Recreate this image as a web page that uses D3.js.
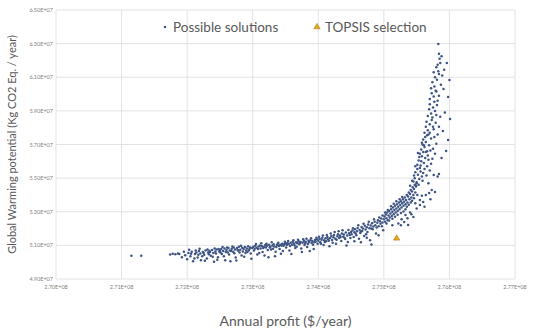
<!DOCTYPE html>
<html>
<head>
<meta charset="utf-8">
<script src="https://cdn.jsdelivr.net/npm/d3@7"></script>
<style>
  body { margin: 0; background: #fff; }
  svg { display: block; font-family: Lato, "Open Sans", sans-serif; }
  .grid line { stroke: #e3e3e3; stroke-width: 1; }
  .tick-label { fill: #7f7f7f; font-size: 5.5px; }
  .title { fill: #595959; }
</style>
</head>
<body>
<svg id="chart" width="550" height="335"></svg>
<script>
// values in millions: profit ($/year), GWP (kg CO2 eq / year)
const xTicks = [270, 271, 272, 273, 274, 275, 276, 277];
const yTicks = [49, 51, 53, 55, 57, 59, 61, 63, 65];

const tailPoints = [
  [271.15, 50.39], [271.30, 50.39], [271.74, 50.45], [271.78, 50.50], [271.82, 50.47], [271.86, 50.52], [271.88, 50.48],
  [271.92, 50.30], [271.95, 50.62], [271.97, 50.41],
  [272.00, 50.18], [272.02, 50.55], [272.05, 50.35], [272.07, 50.62], [272.09, 50.05], [272.12, 50.48], [272.14, 50.58],
  [272.16, 50.28], [272.18, 50.66], [272.20, 50.52], [272.21, 50.12], [272.24, 50.60], [272.26, 50.44], [272.28, 50.70],
  [272.30, 50.22], [272.32, 50.58], [272.34, 50.68], [272.36, 50.38], [272.38, 50.72], [272.40, 50.55], [272.41, 50.02],
  [272.43, 50.64], [272.45, 50.75], [272.47, 50.30], [272.49, 50.62], [272.50, 50.70],
  [272.03, 50.74], [272.06, 50.50], [272.11, 50.22], [272.13, 50.69], [272.17, 50.44], [272.19, 50.80], [272.23, 50.36],
  [272.25, 50.54], [272.27, 50.08], [272.31, 50.76], [272.33, 50.47], [272.35, 50.61], [272.39, 50.33], [272.42, 50.82],
  [272.44, 50.51], [272.46, 50.15], [272.48, 50.79]
];

const bandPoints = [
  [272.52, 50.78], [272.53, 50.48], [272.55, 50.66], [272.57, 50.82], [272.58, 50.12], [272.60, 50.72], [272.62, 50.58],
  [272.63, 50.85], [272.65, 50.70], [272.66, 50.05], [272.68, 50.80], [272.70, 50.62], [272.71, 50.88], [272.73, 50.76],
  [272.74, 50.28], [272.76, 50.84], [272.78, 50.68], [272.79, 50.92], [272.81, 50.74], [272.83, 50.40], [272.84, 50.86],
  [272.86, 50.78], [272.88, 50.90], [272.89, 50.55], [272.91, 50.82], [272.93, 50.95], [272.94, 50.70], [272.96, 50.88],
  [272.98, 50.20], [272.99, 50.84],
  [272.51, 50.58], [272.54, 50.91], [272.56, 50.35], [272.59, 50.61], [272.61, 50.88], [272.64, 50.45], [272.67, 50.67],
  [272.69, 50.93], [272.72, 50.53], [272.75, 50.10], [272.77, 50.72], [272.80, 50.58], [272.82, 50.98], [272.85, 50.64],
  [272.87, 50.33], [272.90, 50.70], [272.92, 50.60], [272.95, 50.79], [272.97, 50.52],
  [273.01, 50.92], [273.03, 50.80], [273.04, 50.98], [273.06, 50.86], [273.07, 50.45], [273.09, 50.94], [273.11, 51.00],
  [273.12, 50.82], [273.14, 50.96], [273.15, 50.60], [273.17, 50.90], [273.19, 51.02], [273.20, 50.88], [273.22, 50.98],
  [273.24, 50.30], [273.25, 51.04], [273.27, 50.92], [273.28, 50.75], [273.30, 51.00], [273.32, 51.06], [273.33, 50.94],
  [273.35, 50.62], [273.37, 51.02], [273.38, 51.08], [273.40, 50.96], [273.42, 51.04], [273.43, 50.50], [273.45, 51.10],
  [273.47, 50.98], [273.48, 51.06], [273.50, 51.12],
  [273.02, 50.70], [273.05, 51.08], [273.08, 50.78], [273.10, 50.55], [273.13, 51.12], [273.16, 50.84], [273.18, 50.40],
  [273.21, 51.10], [273.23, 50.72], [273.26, 50.88], [273.29, 51.18], [273.31, 50.80], [273.34, 50.35], [273.36, 50.90],
  [273.39, 51.16], [273.41, 50.78], [273.44, 50.98], [273.46, 50.66], [273.49, 51.22],
  [273.52, 51.02], [273.53, 51.14], [273.55, 51.08], [273.56, 50.70], [273.58, 51.16], [273.60, 51.04], [273.61, 51.20],
  [273.63, 51.10], [273.65, 50.85], [273.66, 51.18], [273.68, 51.12], [273.70, 51.24], [273.71, 51.06], [273.73, 51.20],
  [273.75, 50.60], [273.76, 51.16], [273.78, 51.26], [273.80, 51.12], [273.81, 51.22], [273.83, 50.90], [273.85, 51.28],
  [273.86, 51.18], [273.88, 51.30], [273.90, 51.14], [273.91, 51.26], [273.93, 50.78], [273.95, 51.32], [273.96, 51.22],
  [273.98, 51.36],
  [273.51, 50.88], [273.54, 51.26], [273.57, 50.96], [273.59, 50.48], [273.62, 51.30], [273.64, 51.00], [273.67, 50.92],
  [273.69, 51.34], [273.72, 51.14], [273.74, 50.82], [273.77, 51.36], [273.79, 51.02], [273.82, 51.40], [273.84, 51.08],
  [273.87, 50.66], [273.89, 51.42], [273.92, 51.04], [273.94, 51.18], [273.97, 51.46], [273.99, 51.10]
];

const kneePoints = [
  [274.00, 51.28], [274.02, 51.40], [274.03, 51.18], [274.05, 51.34], [274.06, 51.46], [274.08, 51.02], [274.09, 51.30],
  [274.11, 51.42], [274.12, 51.24], [274.14, 51.50], [274.15, 51.36], [274.17, 50.95], [274.18, 51.44], [274.20, 51.56],
  [274.21, 51.32], [274.23, 51.48], [274.24, 51.62], [274.26, 51.40], [274.27, 51.10], [274.29, 51.54], [274.30, 51.66],
  [274.32, 51.44], [274.33, 51.58], [274.35, 51.26], [274.36, 51.70], [274.38, 51.52], [274.39, 51.64], [274.41, 51.38],
  [274.42, 51.76], [274.44, 51.58], [274.45, 51.20], [274.47, 51.72], [274.48, 51.62], [274.50, 51.80],
  [274.01, 51.52], [274.04, 51.10], [274.07, 51.58], [274.10, 51.20], [274.13, 51.62], [274.16, 51.28], [274.19, 51.70],
  [274.22, 51.16], [274.25, 51.80], [274.28, 51.34], [274.31, 51.84], [274.34, 51.50], [274.37, 51.90], [274.40, 51.46],
  [274.43, 51.00], [274.46, 51.92], [274.49, 51.44],
  [274.51, 51.66], [274.52, 51.88], [274.54, 51.50], [274.55, 51.78], [274.56, 51.96], [274.58, 51.60], [274.59, 51.84],
  [274.60, 52.04], [274.62, 51.40], [274.63, 51.92], [274.64, 51.74], [274.66, 52.10], [274.67, 51.86], [274.68, 52.00],
  [274.70, 51.56], [274.71, 52.16], [274.72, 51.94], [274.74, 52.08], [274.75, 51.80], [274.76, 52.24], [274.78, 52.02],
  [274.79, 51.30], [274.80, 52.18], [274.82, 52.32], [274.83, 51.96], [274.84, 52.12], [274.86, 52.40], [274.87, 52.20],
  [274.88, 51.70], [274.90, 52.34], [274.91, 52.50], [274.92, 52.14], [274.94, 52.44], [274.95, 52.28], [274.96, 52.60],
  [274.98, 52.36], [274.99, 51.90], [274.81, 51.05], [274.65, 51.18],
  [274.53, 52.02], [274.57, 51.70], [274.61, 52.20], [274.65, 51.82], [274.69, 52.28], [274.73, 51.66], [274.77, 52.40],
  [274.81, 52.00], [274.85, 52.56], [274.89, 52.06], [274.93, 52.66], [274.97, 52.14], [274.55, 51.25], [274.74, 51.45],
  [274.92, 51.60], [274.98, 52.78],
  [275.00, 52.55], [275.01, 52.72], [275.02, 52.40], [275.03, 52.84], [275.04, 52.62], [275.05, 52.95], [275.06, 52.50],
  [275.07, 52.78], [275.08, 53.05], [275.09, 52.66], [275.10, 52.90], [275.11, 53.15], [275.12, 52.74], [275.13, 53.00],
  [275.14, 53.25], [275.15, 52.85], [275.16, 53.10], [275.17, 53.35], [275.18, 52.96], [275.19, 53.20], [275.20, 53.45],
  [275.21, 53.05], [275.22, 53.30], [275.23, 53.55], [275.24, 53.15], [275.25, 53.40], [275.26, 53.62], [275.27, 53.25],
  [275.28, 53.50], [275.29, 53.75], [275.30, 53.35],
  [275.02, 52.95], [275.04, 52.30], [275.06, 53.10], [275.08, 52.48], [275.11, 53.32], [275.13, 52.58], [275.15, 53.48],
  [275.17, 52.70], [275.19, 53.62], [275.21, 52.82], [275.24, 53.75], [275.26, 52.92], [275.28, 53.88], [275.30, 53.02],
  [275.33, 53.15], [275.35, 53.30], [275.38, 53.42], [275.41, 53.55], [275.43, 53.65], [275.46, 53.80], [275.48, 53.50],
  [275.51, 54.00], [275.36, 52.62], [275.42, 52.85], [275.50, 53.20], [275.26, 52.20], [275.13, 52.20], [275.55, 53.70],
  [275.31, 52.39], [275.37, 52.21], [275.45, 52.69], [275.27, 52.55], [275.33, 52.80], [275.22, 52.30], [275.40, 52.95]
];

const risePoints = [
  [275.31, 53.60], [275.32, 53.85], [275.33, 53.45], [275.34, 53.70], [275.35, 54.00], [275.36, 53.55], [275.37, 53.90],
  [275.38, 54.15], [275.39, 53.75], [275.40, 54.05], [275.41, 54.30], [275.42, 53.85], [275.43, 54.20], [275.44, 54.45],
  [275.45, 54.00], [275.46, 54.35], [275.47, 54.60], [275.48, 54.15], [275.49, 54.50], [275.50, 54.75],
  [275.60, 53.58], [275.64, 54.00], [275.69, 54.12], [275.78, 54.18], [275.84, 55.25], [275.76, 55.19], [275.82, 55.10],
  [275.71, 53.75], [275.73, 54.30], [275.55, 53.40], [275.58, 53.95], [275.62, 53.30],
  [275.45, 54.80], [275.47, 55.00], [275.50, 54.70], [275.52, 55.20], [275.48, 55.35], [275.54, 54.95], [275.56, 55.40],
  [275.51, 55.55], [275.58, 55.10], [275.53, 54.60], [275.60, 55.30], [275.49, 54.55], [275.55, 55.60],
  [275.40, 54.55], [275.43, 54.85], [275.46, 55.15], [275.59, 54.85], [275.62, 55.55], [275.65, 55.15], [275.68, 54.70],
  [275.70, 55.45], [275.72, 55.85], [275.48, 55.70],
  [275.51, 55.80], [275.53, 56.05], [275.56, 55.75], [275.58, 56.30], [275.55, 56.45], [275.61, 55.90], [275.63, 56.20],
  [275.57, 56.00], [275.66, 55.70], [275.60, 56.55], [275.54, 56.25], [275.68, 56.10],
  [275.52, 56.50], [275.64, 56.55], [275.67, 56.35], [275.71, 56.65], [275.74, 56.15], [275.78, 56.45], [275.80, 57.05],
  [275.57, 56.70], [275.59, 57.00], [275.62, 56.85], [275.60, 57.30], [275.64, 57.15], [275.66, 56.60], [275.63, 57.45],
  [275.69, 56.95], [275.72, 57.35], [275.58, 57.10], [275.75, 56.75], [275.61, 56.95], [275.66, 57.55], [275.77, 57.45],
  [275.62, 57.70], [275.64, 58.05], [275.67, 57.85], [275.65, 58.35], [275.70, 58.20], [275.68, 57.60], [275.73, 58.45],
  [275.76, 57.90], [275.79, 58.30], [275.70, 57.70], [275.82, 57.60], [275.84, 58.05], [275.75, 58.05],
  [275.67, 58.70], [275.69, 59.10], [275.72, 58.85], [275.70, 59.40], [275.75, 59.20], [275.74, 58.60], [275.78, 59.00],
  [275.81, 59.35], [275.86, 58.65], [275.80, 58.75],
  [275.70, 59.70], [275.73, 60.05], [275.76, 59.85], [275.72, 60.35], [275.79, 60.20], [275.82, 59.60], [275.77, 60.45],
  [275.77, 59.55], [275.84, 59.90], [275.87, 60.55], [275.80, 60.15],
  [275.74, 60.70], [275.78, 61.00], [275.81, 60.85], [275.76, 61.30], [275.84, 61.20], [275.80, 61.60], [275.86, 61.85],
  [275.82, 61.75], [275.89, 61.10], [275.85, 62.10], [275.88, 62.25], [275.92, 61.45], [275.83, 61.35],
  [275.83, 62.98], [275.84, 62.40],
  [276.00, 60.84], [275.98, 59.83], [276.01, 58.52], [275.98, 57.27], [275.95, 56.62], [275.96, 61.85], [275.91, 60.30],
  [275.93, 58.90], [275.90, 57.80], [275.88, 56.20]
];

const topsisPoint = [[275.195, 51.42]];

const margin = { top: 10, right: 35, bottom: 56, left: 56 };
const width = 550, height = 335;

const svg = d3.select('#chart');

const xScale = d3.scaleLinear().domain([270, 277]).range([margin.left, width - margin.right]);
const yScale = d3.scaleLinear().domain([49, 65]).range([height - margin.bottom, margin.top]);

const fmt = (v, exp) => (v / Math.pow(10, exp - 6)).toFixed(2) + 'E+' + String(exp).padStart(2, '0');

// grid
const grid = svg.append('g').attr('class', 'grid');
grid.selectAll('.gx').data(xTicks).join('line')
  .attr('x1', (d) => xScale(d)).attr('x2', (d) => xScale(d))
  .attr('y1', yScale(65)).attr('y2', yScale(49));
grid.selectAll('.gy').data(yTicks).join('line')
  .attr('y1', (d) => yScale(d)).attr('y2', (d) => yScale(d))
  .attr('x1', xScale(270)).attr('x2', xScale(277));

// tick labels
svg.append('g').selectAll('text').data(xTicks).join('text')
  .attr('class', 'tick-label')
  .attr('x', (d) => xScale(d)).attr('y', yScale(49) + 10)
  .attr('text-anchor', 'middle')
  .text((d) => fmt(d, 8));
svg.append('g').selectAll('text').data(yTicks).join('text')
  .attr('class', 'tick-label')
  .attr('x', xScale(270) - 3).attr('y', (d) => yScale(d) + 2)
  .attr('text-anchor', 'end')
  .text((d) => fmt(d, 7));

// points
const allPoints = tailPoints.concat(bandPoints, kneePoints, risePoints);
svg.append('g').selectAll('circle').data(allPoints).join('circle')
  .attr('cx', (d) => xScale(d[0])).attr('cy', (d) => yScale(d[1]))
  .attr('r', 1.25).attr('fill', '#3c5383');

const tri = d3.symbol().type(d3.symbolTriangle).size(17);
svg.append('g').selectAll('path').data(topsisPoint).join('path')
  .attr('transform', (d) => `translate(${xScale(d[0])},${yScale(d[1])})`)
  .attr('d', tri)
  .attr('fill', '#e6a623').attr('stroke', '#b07d10').attr('stroke-width', 0.6);

// legend
svg.append('circle').attr('cx', 165).attr('cy', 27).attr('r', 1.25).attr('fill', '#3c5383');
svg.append('text').attr('class', 'title').attr('x', 173).attr('y', 31.5).attr('font-size', 13.5).text('Possible solutions');
svg.append('path').attr('transform', 'translate(317,27)').attr('d', tri)
  .attr('fill', '#e6a623').attr('stroke', '#b07d10').attr('stroke-width', 0.6);
svg.append('text').attr('class', 'title').attr('x', 325).attr('y', 31.5).attr('font-size', 13.5).text('TOPSIS selection');

// axis titles
svg.append('text').attr('class', 'title')
  .attr('x', (xScale(270) + xScale(277)) / 2).attr('y', 326)
  .attr('text-anchor', 'middle').attr('font-size', 14)
  .text('Annual profit ($/year)');
svg.append('text').attr('class', 'title')
  .attr('transform', `translate(16,${(yScale(49) + yScale(65)) / 2}) rotate(-90)`)
  .attr('text-anchor', 'middle').attr('font-size', 11)
  .text('Global Warming potential (Kg CO2 Eq. / year)');
</script>
</body>
</html>
